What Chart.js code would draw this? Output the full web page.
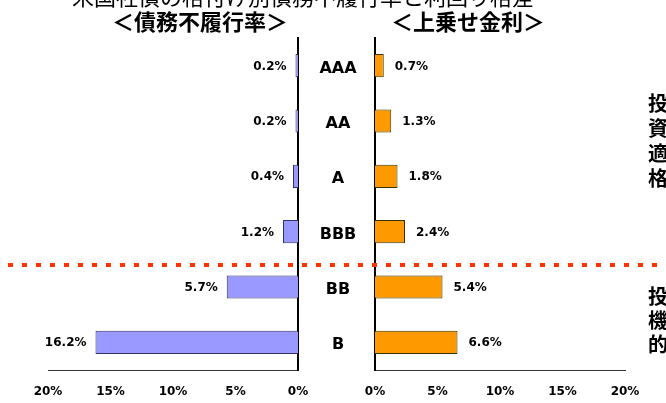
<!DOCTYPE html>
<html>
<head>
<meta charset="utf-8">
<script src="https://cdn.jsdelivr.net/npm/chart.js@4/dist/chart.umd.min.js"></script>
<style>
  html, body { margin: 0; padding: 0; background: #fff; }
  #wrap { position: relative; width: 666px; height: 403px; overflow: hidden; }
  canvas { position: absolute; left: 0; top: 0; }
</style>
</head>
<body>
<div id="wrap">
  <canvas id="left" width="666" height="403"></canvas>
  <canvas id="right" width="666" height="403"></canvas>
</div>
<script>
// Ratings and the two series (percent)
const ratings = ['AAA', 'AA', 'A', 'BBB', 'BB', 'B'];
const defaultRates = [0.2, 0.2, 0.4, 1.2, 5.7, 16.2];
const spreads = [0.7, 1.3, 1.8, 2.4, 5.4, 6.6];
const tickValues = [0, 5, 10, 15, 20];

const pageTitle = '米国社債の格付け別債務不履行率と利回り格差';
const leftTitle = '＜債務不履行率＞';
const rightTitle = '＜上乗せ金利＞';
const gradeTop = '投資適格';
const gradeBottom = '投機的';

const LATIN = '"DejaVu Sans", "Liberation Sans", Arial, sans-serif';
const CJK = '"Noto Sans CJK JP", "Noto Sans CJK SC", sans-serif';

function fmt(v) { return v.toFixed(1) + '%'; }

// Value labels next to the end of each bar
function valueLabels(side) {
  return {
    id: 'valueLabels_' + side,
    afterDatasetsDraw(chart) {
      const ctx = chart.ctx;
      const meta = chart.getDatasetMeta(0);
      const data = chart.data.datasets[0].data;
      ctx.save();
      ctx.font = 'bold 12px ' + LATIN;
      ctx.fillStyle = '#000';
      ctx.textBaseline = 'middle';
      meta.data.forEach((bar, i) => {
        if (side === 'left') {
          ctx.textAlign = 'right';
          ctx.fillText(fmt(data[i]), bar.x - 9, bar.y + 1);
        } else {
          ctx.textAlign = 'left';
          ctx.fillText(fmt(data[i]), bar.x + 11, bar.y + 1);
        }
      });
      ctx.restore();
    }
  };
}

// Rating names between the two panels, headings, grade labels and divider
const decorations = {
  id: 'decorations',
  afterDraw(chart) {
    const ctx = chart.ctx;
    const yScale = chart.scales.y;
    ctx.save();
    ctx.fillStyle = '#000';

    // rating names
    ctx.font = 'bold 16px ' + LATIN;
    ctx.textAlign = 'center';
    ctx.textBaseline = 'middle';
    ratings.forEach((r, i) => {
      ctx.fillText(r, 338, yScale.getPixelForValue(i) + 3);
    });

    // page title (runs off the top edge)
    ctx.font = '22px ' + CJK;
    ctx.textBaseline = 'alphabetic';
    ctx.fillText(pageTitle, 303, 5);

    // panel headings
    ctx.font = 'bold 22px ' + CJK;
    ctx.textBaseline = 'middle';
    ctx.fillText(leftTitle, 200, 22);
    ctx.fillText(rightTitle, 468, 22);

    // vertical grade labels on the right edge
    ctx.font = 'bold 20px ' + CJK;
    [...gradeTop].forEach((c, i) => ctx.fillText(c, 658, 103 + i * 25));
    [...gradeBottom].forEach((c, i) => ctx.fillText(c, 658, 296 + i * 24));

    // dotted divider between investment grade and speculative grade
    ctx.strokeStyle = '#ff3300';
    ctx.lineWidth = 4;
    ctx.setLineDash([5, 9]);
    ctx.beginPath();
    ctx.moveTo(8, 265);
    ctx.lineTo(662, 265);
    ctx.stroke();
    ctx.restore();
  }
};

function xAxis(reverse) {
  return {
    reverse: reverse,
    min: 0,
    max: 20,
    afterBuildTicks(s) { s.ticks = tickValues.map(v => ({ value: v })); },
    afterFit(s) { s.height = 33; },
    grid: { display: false, drawTicks: false },
    border: { display: true, color: '#333', width: 1 },
    ticks: {
      padding: 15,
      color: '#000',
      font: { family: LATIN, size: 12, weight: 'bold' },
      callback: v => v + '%'
    }
  };
}

function yAxis(position) {
  return {
    position: position,
    afterFit(s) { s.width = 0; },
    grid: { display: false, drawTicks: false },
    ticks: { display: false },
    border: { display: true, color: '#000', width: 2 }
  };
}

const common = {
  indexAxis: 'y',
  responsive: false,
  animation: false,
  events: [],
  plugins: { legend: { display: false }, tooltip: { enabled: false } }
};

new Chart(document.getElementById('left'), {
  type: 'bar',
  data: {
    labels: ratings,
    datasets: [{
      data: defaultRates,
      backgroundColor: '#9999ff',
      borderColor: '#333366',
      borderWidth: 1,
      barPercentage: 0.84,
      categoryPercentage: 0.5
    }]
  },
  options: Object.assign({}, common, {
    layout: { padding: { left: 48, right: 368, top: 38, bottom: 0 } },
    scales: { x: xAxis(true), y: yAxis('right') }
  }),
  plugins: [valueLabels('left')]
});

new Chart(document.getElementById('right'), {
  type: 'bar',
  data: {
    labels: ratings,
    datasets: [{
      data: spreads,
      backgroundColor: '#ff9900',
      borderColor: '#333300',
      borderWidth: 1,
      barPercentage: 0.84,
      categoryPercentage: 0.5
    }]
  },
  options: Object.assign({}, common, {
    layout: { padding: { left: 375, right: 41, top: 38, bottom: 0 } },
    scales: { x: xAxis(false), y: yAxis('left') }
  }),
  plugins: [valueLabels('right'), decorations]
});
</script>
</body>
</html>
